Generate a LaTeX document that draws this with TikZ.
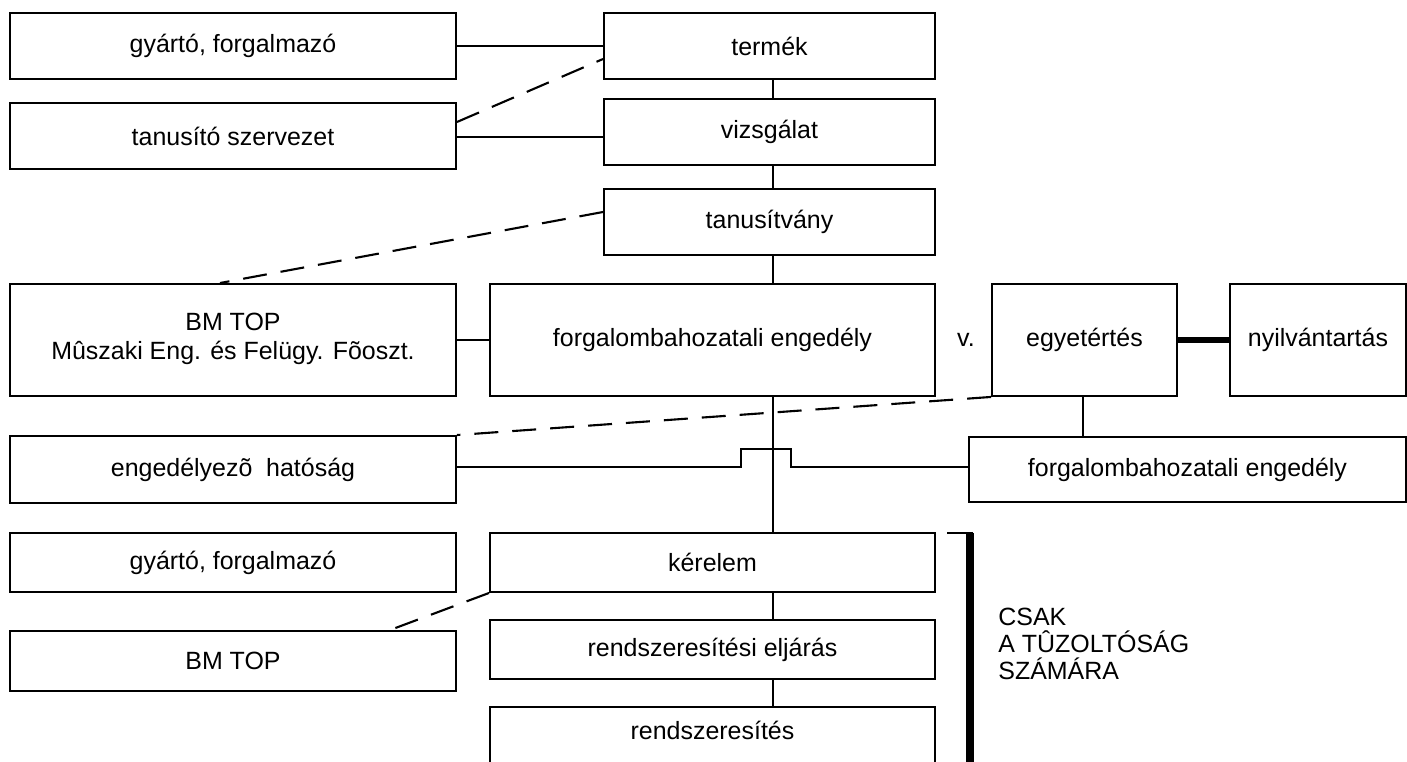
\documentclass[tikz,border=0pt]{standalone}
\usepackage{fontspec}
\setmainfont{Liberation Sans}
\usepackage{tikz}
\usetikzlibrary{positioning, calc}

\begin{document}
\begin{tikzpicture}[x=0.2mm, y=-0.2mm,
    box/.style={draw, line width=1.1pt, inner sep=0pt,
        font=\fontsize{14.2}{17}\selectfont},
    boxsize/.style 2 args={minimum width=#1*0.2mm, minimum height=#2*0.2mm},
    link/.style={line width=1.1pt},
    dashlink/.style={line width=1.2pt, dash pattern=on 4.8mm off 2.8mm},
    heavylink/.style={line width=1.1mm}]
\useasboundingbox (0,0) rectangle (1407,762);

% Left column
\node[box, boxsize={446}{66}] (gyarto) at (233,46) {gyártó, forgalmazó};
\node[box, boxsize={446}{66}] (tanusito) at (233,136) {tanusító szervezet};
\node[box, boxsize={446}{112}, align=center, text depth=1.5mm] (bmtop) at (233,340)
    {BM TOP\\Mûszaki Eng. és Felügy. Fõoszt.};
\node[box, boxsize={446}{67}] (hatosag) at (233,469.5) {engedélyezõ~~hatóság};
\node[box, boxsize={446}{59}] (gyarto2) at (233,562.5) {gyártó, forgalmazó};
\node[box, boxsize={446}{60}] (bmtop2) at (233,661) {BM TOP};

% Middle column
\node[box, boxsize={331}{66}] (termek) at (769.5,46) {termék};
\node[box, boxsize={331}{66}] (vizsgalat) at (769.5,132) {vizsgálat};
\node[box, boxsize={331}{66}] (tanusitvany) at (769.5,222) {tanusítvány};
\node[box, boxsize={445}{112}] (forgeng) at (712.5,340) {forgalombahozatali engedély};
\node[box, boxsize={445}{59}] (kerelem) at (712.5,562.5) {kérelem};
\node[box, boxsize={445}{59}] (eljaras) at (712.5,649.5) {rendszeresítési eljárás};
\node[box, boxsize={445}{70}, text depth=4.6mm] (rendsz) at (712.5,742) {rendszeresítés};

% Right side
\node[box, boxsize={185}{112}] (egyetertes) at (1084.5,340) {egyetértés};
\node[box, boxsize={176}{112}] (nyilvan) at (1318,340) {nyilvántartás};
\node[box, boxsize={437}{65}] (forgeng2) at (1187.5,469.5) {forgalombahozatali engedély};
\node[font=\fontsize{14.2}{17}\selectfont] (vagy) at (966,340) {v.};

% Main spine
\coordinate (spine) at (773,0);
\foreach \a/\b in {termek/vizsgalat, vizsgalat/tanusitvany, tanusitvany/forgeng,
    forgeng/kerelem, kerelem/eljaras, eljaras/rendsz} {
    \draw[link] (\a.south -| spine) -- (\b.north -| spine);
}

% Side links
\draw[link] (gyarto.east) -- (gyarto.east -| termek.west);
\draw[link] (tanusito.east |- 0,137) -- (vizsgalat.west |- 0,137);
\draw[link] (bmtop.east) -- (bmtop.east -| forgeng.west);
\draw[link] (egyetertes.south -| 1083,0) -- (forgeng2.north -| 1083,0);
\draw[heavylink] (egyetertes.east) -- (nyilvan.west);
% hop over the spine
\draw[link] (hatosag.east |- 0,467) -- (741,467) -- (741,449) -- (791,449)
    -- (791,467) -- (forgeng2.west |- 0,467);

% Dashed links
\draw[dashlink] (tanusito.east |- 0,122) -- (termek.west |- 0,59);
\draw[dashlink] (tanusitvany.west |- 0,212) -- (bmtop.north -| 220,0);
\draw[dashlink] (egyetertes.south west) -- (hatosag.north east);
\draw[dashlink] (kerelem.south west) -- (bmtop2.north -| 390,0);

% Bracket with note
\draw[link] (947,533) -- (973,533);
\draw[line width=1.5mm] (970,533) -- (970,775);
\node[anchor=west, align=left, inner sep=0pt,
    font=\fontsize{14.2}{15.4}\selectfont] (csak) at (998,644)
    {CSAK\\A TÛZOLTÓSÁG\\SZÁMÁRA};
\end{tikzpicture}
\end{document}
